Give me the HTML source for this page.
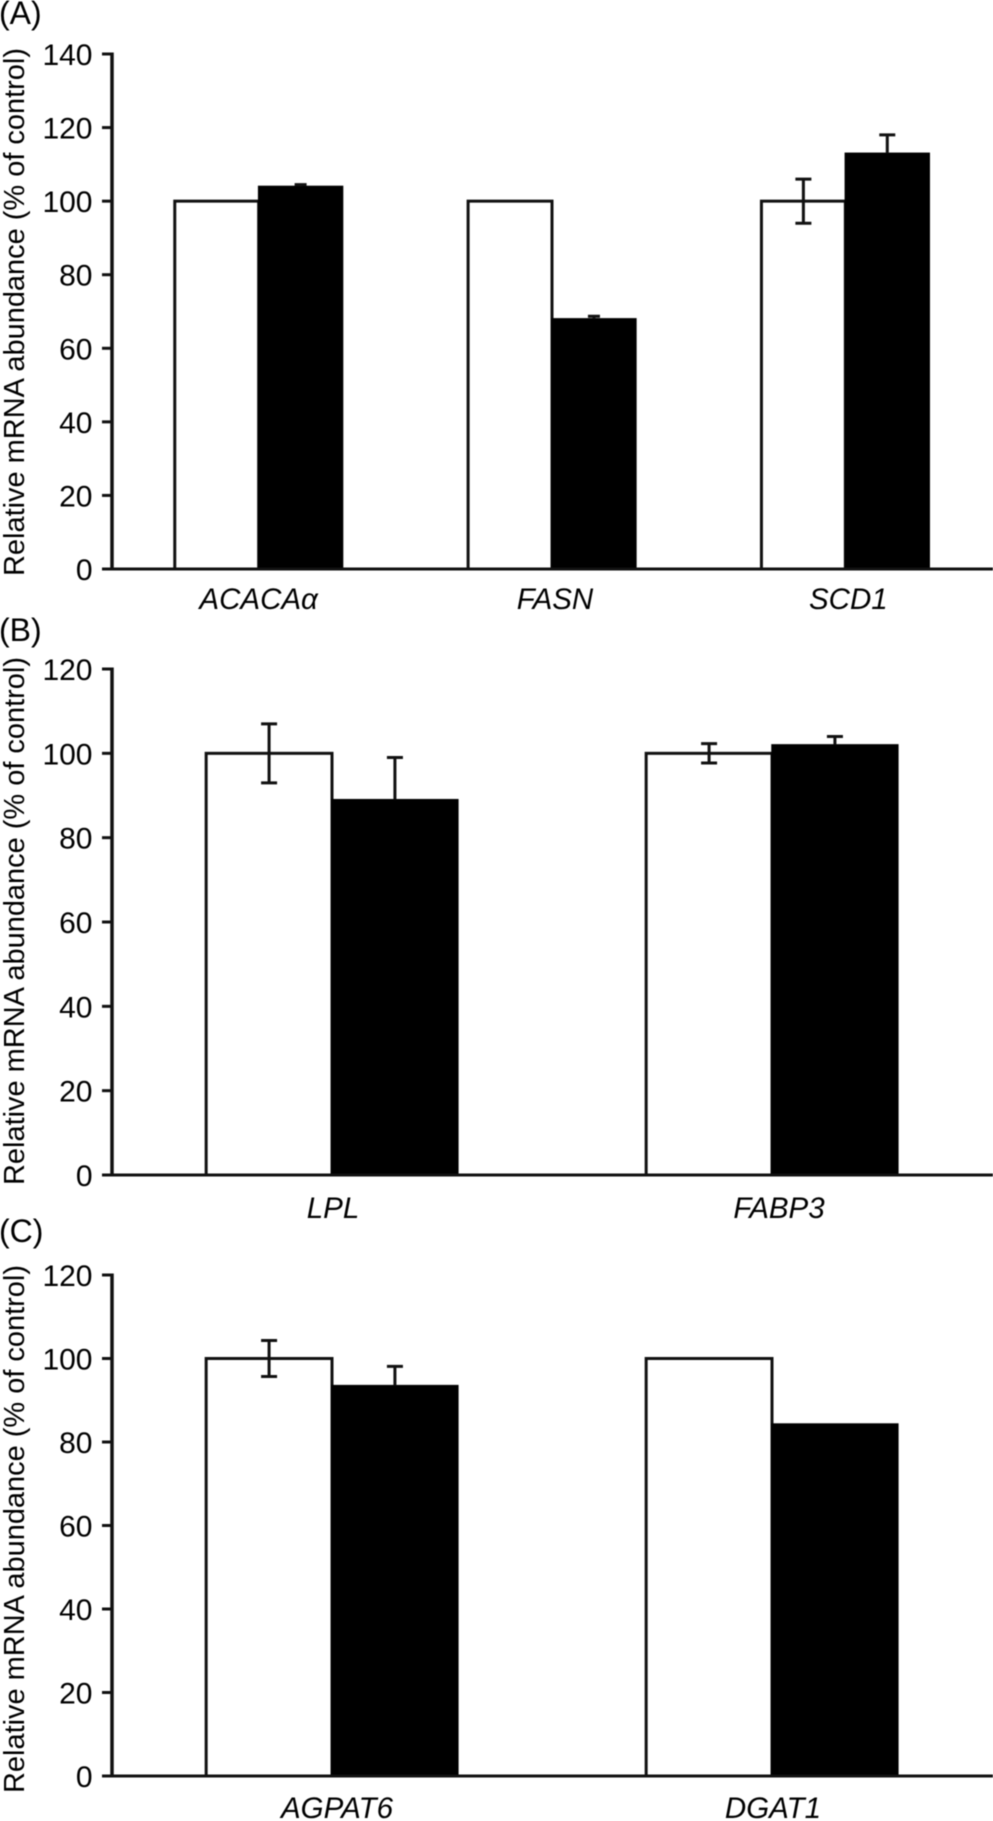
<!DOCTYPE html>
<html lang="en">
<head>
<meta charset="utf-8">
<title>Relative mRNA abundance</title>
<style>
html,body{margin:0;padding:0;background:#fff;}
body{width:993px;height:1821px;overflow:hidden;}
svg{display:block;filter:blur(0.4px);}
text{font-family:"Liberation Sans",sans-serif;fill:#000;}
</style>
</head>
<body>
<svg id="chart" xmlns="http://www.w3.org/2000/svg" width="993" height="1821" viewBox="0 0 993 1821"></svg>
<script>
// Panel A data
const aCategories = ["ACACAα", "FASN", "SCD1"];
const aControl = [100, 100, 100];
const aControlErr = [0, 0, 6];
const aTreated = [104, 68, 113];
const aTreatedErr = [0.5, 0.7, 5];
const aTicks = [0, 20, 40, 60, 80, 100, 120, 140];

// Panel B data
const bCategories = ["LPL", "FABP3"];
const bControl = [100, 100];
const bControlErr = [7, 2.3];
const bTreated = [89, 102];
const bTreatedErr = [10, 2];
const bTicks = [0, 20, 40, 60, 80, 100, 120];

// Panel C data
const cCategories = ["AGPAT6", "DGAT1"];
const cControl = [100, 100];
const cControlErr = [4.3, 0];
const cTreated = [93.5, 84.3];
const cTreatedErr = [4.6, 0];
const cTicks = [0, 20, 40, 60, 80, 100, 120];

const yTitle = "Relative mRNA abundance (% of control)";
const NS = "http://www.w3.org/2000/svg";
const svg = document.getElementById("chart");
const AXIS_X = 112, AXIS_END = 992, STROKE = "#111";

function make(parent, tag, attrs, txt) {
  const el = document.createElementNS(NS, tag);
  for (const k in attrs) el.setAttribute(k, attrs[k]);
  if (txt !== undefined) el.textContent = txt;
  parent.appendChild(el);
  return el;
}

function drawPanel(p) {
  const yScale = v => p.base - (v / p.ticks[p.ticks.length - 1]) * (p.base - p.top);
  const step = (AXIS_END - AXIS_X) / p.categories.length;
  const center = i => AXIS_X + (i + 0.5) * step;
  const barW = step * 0.286;

  const g = make(svg, "g", {});
  
  

  const label = make(g, "text", {x: -1, y: p.labelY, "font-size": 32}, "(" + p.id.toUpperCase() + ")");
  
  

  const title = make(g, "text", {
    transform: "translate(24," + p.titleY + ") rotate(-90)",
    "text-anchor": "middle", "font-size": 29,
    textLength: 528, lengthAdjust: "spacingAndGlyphs"
  }, yTitle);
  
  

  p.categories.forEach((cat, i) => {
    const cx = center(i);
    const white = make(g, "rect", {
      x: cx - barW, y: yScale(p.control[i]), width: barW,
      height: yScale(0) - yScale(p.control[i]),
      fill: "#fff", stroke: STROKE, "stroke-width": 3
    });
    
    

    const black = make(g, "rect", {
      x: cx, y: yScale(p.treated[i]), width: barW,
      height: yScale(0) - yScale(p.treated[i]),
      fill: "#000", stroke: "#000", "stroke-width": 1.5
    });
    
    

    if (p.controlErr[i]) {
      const ex = cx - barW / 2;
      const hi = yScale(p.control[i] + p.controlErr[i]);
      const lo = yScale(p.control[i] - p.controlErr[i]);
      const capW = 8;
      const errC = make(g, "path", {
        d: "M" + ex + " " + lo + "V" + hi +
           "M" + (ex - capW) + " " + hi + "H" + (ex + capW) +
           "M" + (ex - capW) + " " + lo + "H" + (ex + capW),
        fill: "none", stroke: STROKE, "stroke-width": 3
      });
      
      
    }
    if (p.treatedErr[i]) {
      const ex = cx + barW / 2;
      const hi = yScale(p.treated[i] + p.treatedErr[i]);
      const base = yScale(p.treated[i]);
      const capW = p.treatedErr[i] < 1 ? 6 : 8;
      const errT = make(g, "path", {
        d: "M" + ex + " " + base + "V" + hi +
           "M" + (ex - capW) + " " + hi + "H" + (ex + capW),
        fill: "none", stroke: STROKE, "stroke-width": 3
      });
      
      
    }

    const catLabel = make(g, "text", {
      x: cx + p.catShift[i], y: p.catY, "text-anchor": "middle",
      "font-size": 29.5, "font-style": "italic"
    }, cat);
    
    
  });

  p.ticks.forEach(t => {
    const y = yScale(t);
    const tick = make(g, "line", {x1: AXIS_X - 10, x2: AXIS_X, y1: y, y2: y, stroke: STROKE, "stroke-width": 3});
    
    

    const tl = make(g, "text", {x: 92.5, y: y + 11, "text-anchor": "end", "font-size": 30}, t);
    
    
  });

  const yAxis = make(g, "line", {x1: AXIS_X, x2: AXIS_X, y1: p.top - 1.5, y2: p.base + 1.5, stroke: STROKE, "stroke-width": 3.5});
  
  

  const xAxis = make(g, "line", {x1: AXIS_X, x2: 993, y1: p.base, y2: p.base, stroke: STROKE, "stroke-width": 3});
  
  
}

drawPanel({id: "a", categories: aCategories, control: aControl, controlErr: aControlErr,
  treated: aTreated, treatedErr: aTreatedErr, ticks: aTicks, catShift: [0, 3, 3],
  top: 54, base: 569, labelY: 24, titleY: 312, catY: 609});
drawPanel({id: "b", categories: bCategories, control: bControl, controlErr: bControlErr,
  treated: bTreated, treatedErr: bTreatedErr, ticks: bTicks, catShift: [1, 7],
  top: 669, base: 1175, labelY: 641, titleY: 921, catY: 1218});
drawPanel({id: "c", categories: cCategories, control: cControl, controlErr: cControlErr,
  treated: cTreated, treatedErr: cTreatedErr, ticks: cTicks, catShift: [5, 1],
  top: 1275, base: 1776, labelY: 1242, titleY: 1529, catY: 1818});
</script>
</body>
</html>
